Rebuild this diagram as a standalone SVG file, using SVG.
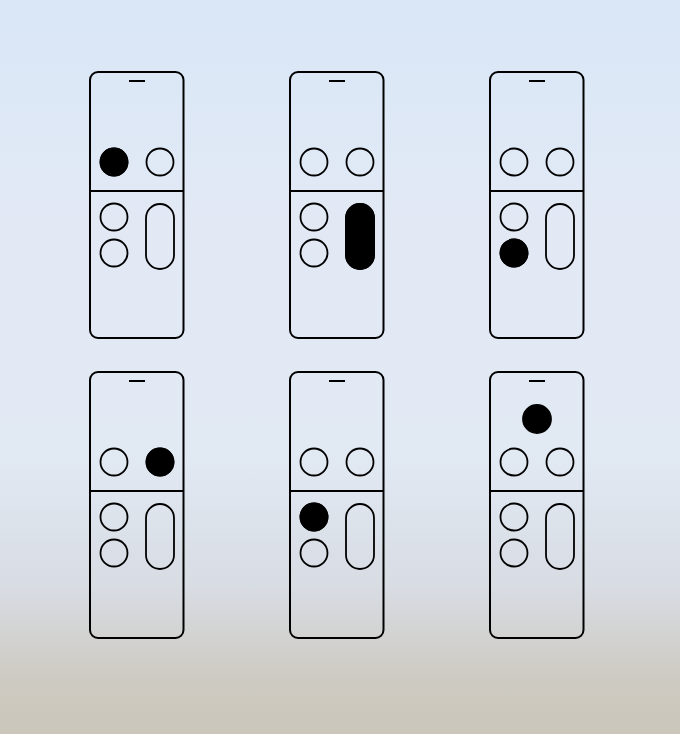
<svg xmlns="http://www.w3.org/2000/svg" width="680" height="734" viewBox="0 0 680 734">
<defs>
<linearGradient id="bg" x1="0" y1="0" x2="0" y2="1">
<stop offset="0" stop-color="#d9e7f7"/>
<stop offset="0.3" stop-color="#e2e9f5"/>
<stop offset="0.62" stop-color="#e1e9f3"/>
<stop offset="0.8" stop-color="#d8dce3"/>
<stop offset="0.92" stop-color="#cecbc3"/>
<stop offset="1" stop-color="#cbc6ba"/>
</linearGradient>
<g id="remote">
<rect x="90" y="72" width="93.5" height="266" rx="8" class="body"/>
<line x1="129" y1="81" x2="145" y2="81" class="ln"/>
<line x1="90" y1="191" x2="183.5" y2="191" class="ln"/>
<circle cx="114" cy="162" r="13.5" class="btn"/>
<circle cx="160" cy="162" r="13.5" class="btn"/>
<circle cx="114" cy="217" r="13.5" class="btn"/>
<circle cx="114" cy="253" r="13.5" class="btn"/>
<rect x="146" y="204" width="28" height="65" rx="14" class="btn"/>
</g>
</defs>
<style>
.body{fill:none;stroke:#000;stroke-width:2}
.ln{stroke:#000;stroke-width:2}
.btn{fill:none;stroke:#000;stroke-width:1.8}
.on{fill:#000;stroke:#000;stroke-width:1.8}
</style>
<rect x="0" y="0" width="680" height="734" fill="url(#bg)"/>
<g id="remote1">
<use href="#remote"/>
<circle cx="114" cy="162" r="13.5" class="on"/>
</g>
<g id="remote2" transform="translate(200,0)">
<use href="#remote"/>
<rect x="146" y="204" width="28" height="65" rx="14" class="on"/>
</g>
<g id="remote3" transform="translate(400,0)">
<use href="#remote"/>
<circle cx="114" cy="253" r="13.5" class="on"/>
</g>
<g id="remote4" transform="translate(0,300)">
<use href="#remote"/>
<circle cx="160" cy="162" r="13.5" class="on"/>
</g>
<g id="remote5" transform="translate(200,300)">
<use href="#remote"/>
<circle cx="114" cy="217" r="13.5" class="on"/>
</g>
<g id="remote6" transform="translate(400,300)">
<use href="#remote"/>
<circle cx="137" cy="119" r="14" class="on"/>
</g>
</svg>
